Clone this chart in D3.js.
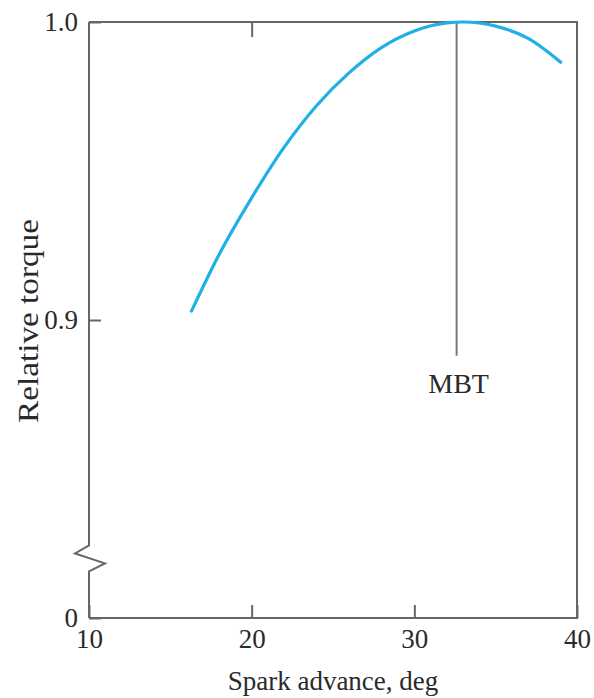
<!DOCTYPE html>
<html>
<head>
<meta charset="utf-8">
<script src="https://cdn.jsdelivr.net/npm/d3@7/dist/d3.min.js"></script>
<style>
  html, body { margin: 0; padding: 0; background: #fff; }
  svg { display: block; }
  text { font-family: "Liberation Serif", "Times New Roman", serif; fill: #2a2a2a; }
</style>
</head>
<body>
<svg id="chart" width="594" height="698"></svg>
<script>
// ---- data ----
const sparkAdvance = [16.3, 18.0, 20.0, 22.0, 24.0, 26.0, 28.0, 30.0, 32.0, 33.0, 35.0, 37.0, 39.0];
const relTorque    = [0.903, 0.922, 0.941, 0.958, 0.972, 0.983, 0.9915, 0.997, 0.9997, 1.0, 0.9986, 0.9945, 0.9865];
const xTickValues = [10, 20, 30, 40];
const xTickLabels = ["10", "20", "30", "40"];
const yTickValues = [0.8, 0.9, 1.0];
const yTickLabels = ["0", "0.9", "1.0"];
const mbtAdvance = 32.6;
const mbtRange = [0.9997, 0.888];
const mbtLabel = "MBT";
const breakValue = 0.82;

// ---- layout ----
const svg = d3.select("#chart");
const L = 89, R = 577, T = 22, B = 618;
const x = d3.scaleLinear().domain([10, 40]).range([L, R]);
const y = d3.scaleLinear().domain([0.8, 1.0]).range([B, T]);
const frameColor = "#666";
const fs = 27;

// frame: top, right, bottom
svg.append("path")
  .attr("d", `M${L},${T}H${R}V${B}H${L}`)
  .attr("fill", "none").attr("stroke", frameColor).attr("stroke-width", 2);

// left axis line with break
const by = y(breakValue);
const brk = [[L, T], [L, by - 13], [L - 14, by - 5], [L + 16, by + 5], [L, by + 13], [L, B]];
svg.append("path")
  .attr("d", d3.line()(brk))
  .attr("fill", "none").attr("stroke", frameColor).attr("stroke-width", 2)
  .attr("stroke-linejoin", "miter");

// bottom axis
const xAxis = d3.axisBottom(x).tickValues(xTickValues)
  .tickFormat((d, i) => xTickLabels[i]).tickSizeInner(-13).tickSizeOuter(0).tickPadding(11);
const gx = svg.append("g").attr("transform", `translate(0,${B})`).call(xAxis);
gx.select(".domain").remove();
gx.selectAll(".tick line").attr("stroke", frameColor).attr("stroke-width", 2);
gx.selectAll(".tick text").attr("font-size", fs).attr("fill", "#2a2a2a")
  .style("font-family", '"Liberation Serif", serif');

// top tick at 20
const xTop = d3.axisTop(x).tickValues([20]).tickFormat("").tickSizeInner(-15).tickSizeOuter(0);
const gt = svg.append("g").attr("transform", `translate(0,${T})`).call(xTop);
gt.select(".domain").remove();
gt.selectAll(".tick line").attr("stroke", frameColor).attr("stroke-width", 2);

// left axis
const yAxis = d3.axisLeft(y).tickValues(yTickValues)
  .tickFormat((d, i) => yTickLabels[i]).tickSizeInner(-12).tickSizeOuter(0).tickPadding(11);
const gy = svg.append("g").attr("transform", `translate(${L},0)`).call(yAxis);
gy.select(".domain").remove();
gy.selectAll(".tick line").attr("stroke", frameColor).attr("stroke-width", 2);
gy.selectAll(".tick text").attr("font-size", fs).attr("fill", "#2a2a2a")
  .style("font-family", '"Liberation Serif", serif');

// MBT line
svg.append("line")
  .attr("x1", x(mbtAdvance)).attr("x2", x(mbtAdvance))
  .attr("y1", y(mbtRange[0])).attr("y2", y(mbtRange[1]))
  .attr("stroke", "#777").attr("stroke-width", 2);
svg.append("text")
  .attr("x", x(mbtAdvance) + 2).attr("y", y(mbtRange[1]) + 37)
  .attr("text-anchor", "middle").attr("font-size", 28).text(mbtLabel);

// curve
const pts = sparkAdvance.map((d, i) => [d, relTorque[i]]);
svg.append("path")
  .datum(pts)
  .attr("d", d3.line().x(d => x(d[0])).y(d => y(d[1])).curve(d3.curveMonotoneX))
  .attr("fill", "none").attr("stroke", "#1fb0e6").attr("stroke-width", 3.2)
  .attr("stroke-linecap", "round");

// axis titles
svg.append("text")
  .attr("x", (L + R) / 2).attr("y", 690)
  .attr("text-anchor", "middle").attr("font-size", fs).text("Spark advance, deg");
svg.append("text")
  .attr("transform", `translate(38,321) rotate(-90)`)
  .attr("text-anchor", "middle").attr("font-size", 30)
  .attr("textLength", 204).attr("lengthAdjust", "spacingAndGlyphs")
  .text("Relative torque");
</script>
</body>
</html>
